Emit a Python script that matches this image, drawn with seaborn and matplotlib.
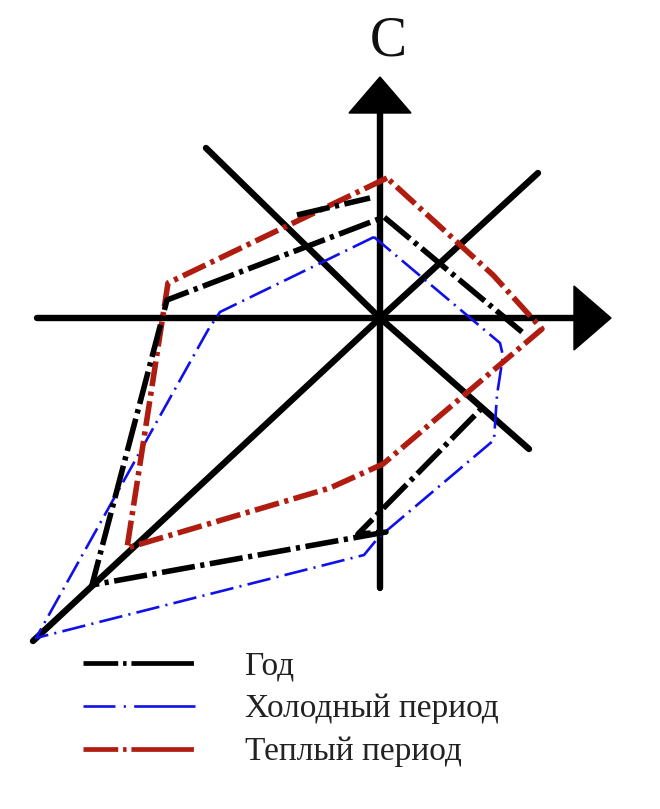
import numpy as np
import pandas as pd
import matplotlib
matplotlib.use("Agg")
import matplotlib.pyplot as plt
import seaborn as sns
from matplotlib.lines import Line2D

# wind rose polygons, chart units (origin = centre of the rose, y up)
god_x = [142, 4, -213, -288, 6, -22, 102]
god_y = [-14, 101, 18, -267, -214, -216, -90]
god_piece_x = [-83, -10]          # stray fragment of the "Год" line near the top
god_piece_y = [103, 120]

cold_x = [-6, -160, -172, -344, -16, -2, 114, 117, 123, 120, -6]
cold_y = [81, 6, -12, -320, -237, -220, -122, -77, -38, -25, 81]

warm_x = [7, -212, -253, -50, 3, 162, 113, 7]
warm_y = [140, 35, -230, -170, -146, -11, 43, 140]

# rose arms: end points
arm_names = ["W", "E", "S", "N", "NW", "SE", "NE", "SW"]
arm_x = [-343, 194, 0, 0, -174, 149, 158, -347]
arm_y = [0, 0, -270, 205, 170, -131, 145, -323]

north_label = "С"
labels = ["Год", "Холодный период", "Теплый период"]

sns.set_theme(style="white")
plt.rcParams["font.family"] = ["Liberation Serif", "DejaVu Serif"]
plt.rcParams["lines.scale_dashes"] = False

fig = plt.figure(figsize=(6.6, 8.09), dpi=100)
ax = fig.add_axes([0, 0, 1, 1])
ax.set_xlim(-380, 280)
ax.set_ylim(-491, 318)
ax.axis("off")

# arms
for x, y in zip(arm_x, arm_y):
    ax.plot([0, x], [0, y], color="black", lw=4.6, solid_capstyle="round", zorder=2)

# arrow heads on the E and N arms
ax.fill([194, 231, 194], [32, 0, -32], color="black", zorder=2)
ax.fill([-31, 0, 31], [205, 241, 205], color="black", zorder=2)

ax.text(8, 277, north_label, fontsize=40, ha="center", va="center", color="#111111")

black_ls = (0, (24, 4, 3, 4))
blue_ls = (0, (17, 4.5, 1.5, 4.5))
red_ls = (0, (18, 4, 3, 4))

sns.lineplot(x=cold_x, y=cold_y, sort=False, estimator=None, ax=ax,
             color="#1010e8", lw=1.9, linestyle=blue_ls, zorder=3)
sns.lineplot(x=god_x, y=god_y, sort=False, estimator=None, ax=ax,
             color="black", lw=4.0, linestyle=black_ls, zorder=4)
sns.lineplot(x=god_piece_x, y=god_piece_y, sort=False, estimator=None, ax=ax,
             color="black", lw=4.0, linestyle=black_ls, zorder=4)
sns.lineplot(x=warm_x, y=warm_y, sort=False, estimator=None, ax=ax,
             color="#b01c10", lw=4.0, linestyle=red_ls, zorder=3)

leg_ls = (0, (25, 3.5, 2.5, 3.5, 45, 10))
handles = [
    Line2D([], [], color="black", lw=3.4, linestyle=leg_ls),
    Line2D([], [], color="#1010e8", lw=1.9, linestyle=(0, (23, 6, 1.5, 6, 45, 10))),
    Line2D([], [], color="#b01c10", lw=3.4, linestyle=leg_ls),
]
ax.legend(handles, labels, loc="upper left", bbox_to_anchor=(83 / 660, 1 - 651 / 809),
          bbox_transform=fig.transFigure, frameon=False, fontsize=24,
          handlelength=3.35, handletextpad=1.5, labelspacing=0.37, borderpad=0,
          borderaxespad=0, labelcolor="#222222")

fig.savefig("out.png", dpi=100, facecolor="white")
